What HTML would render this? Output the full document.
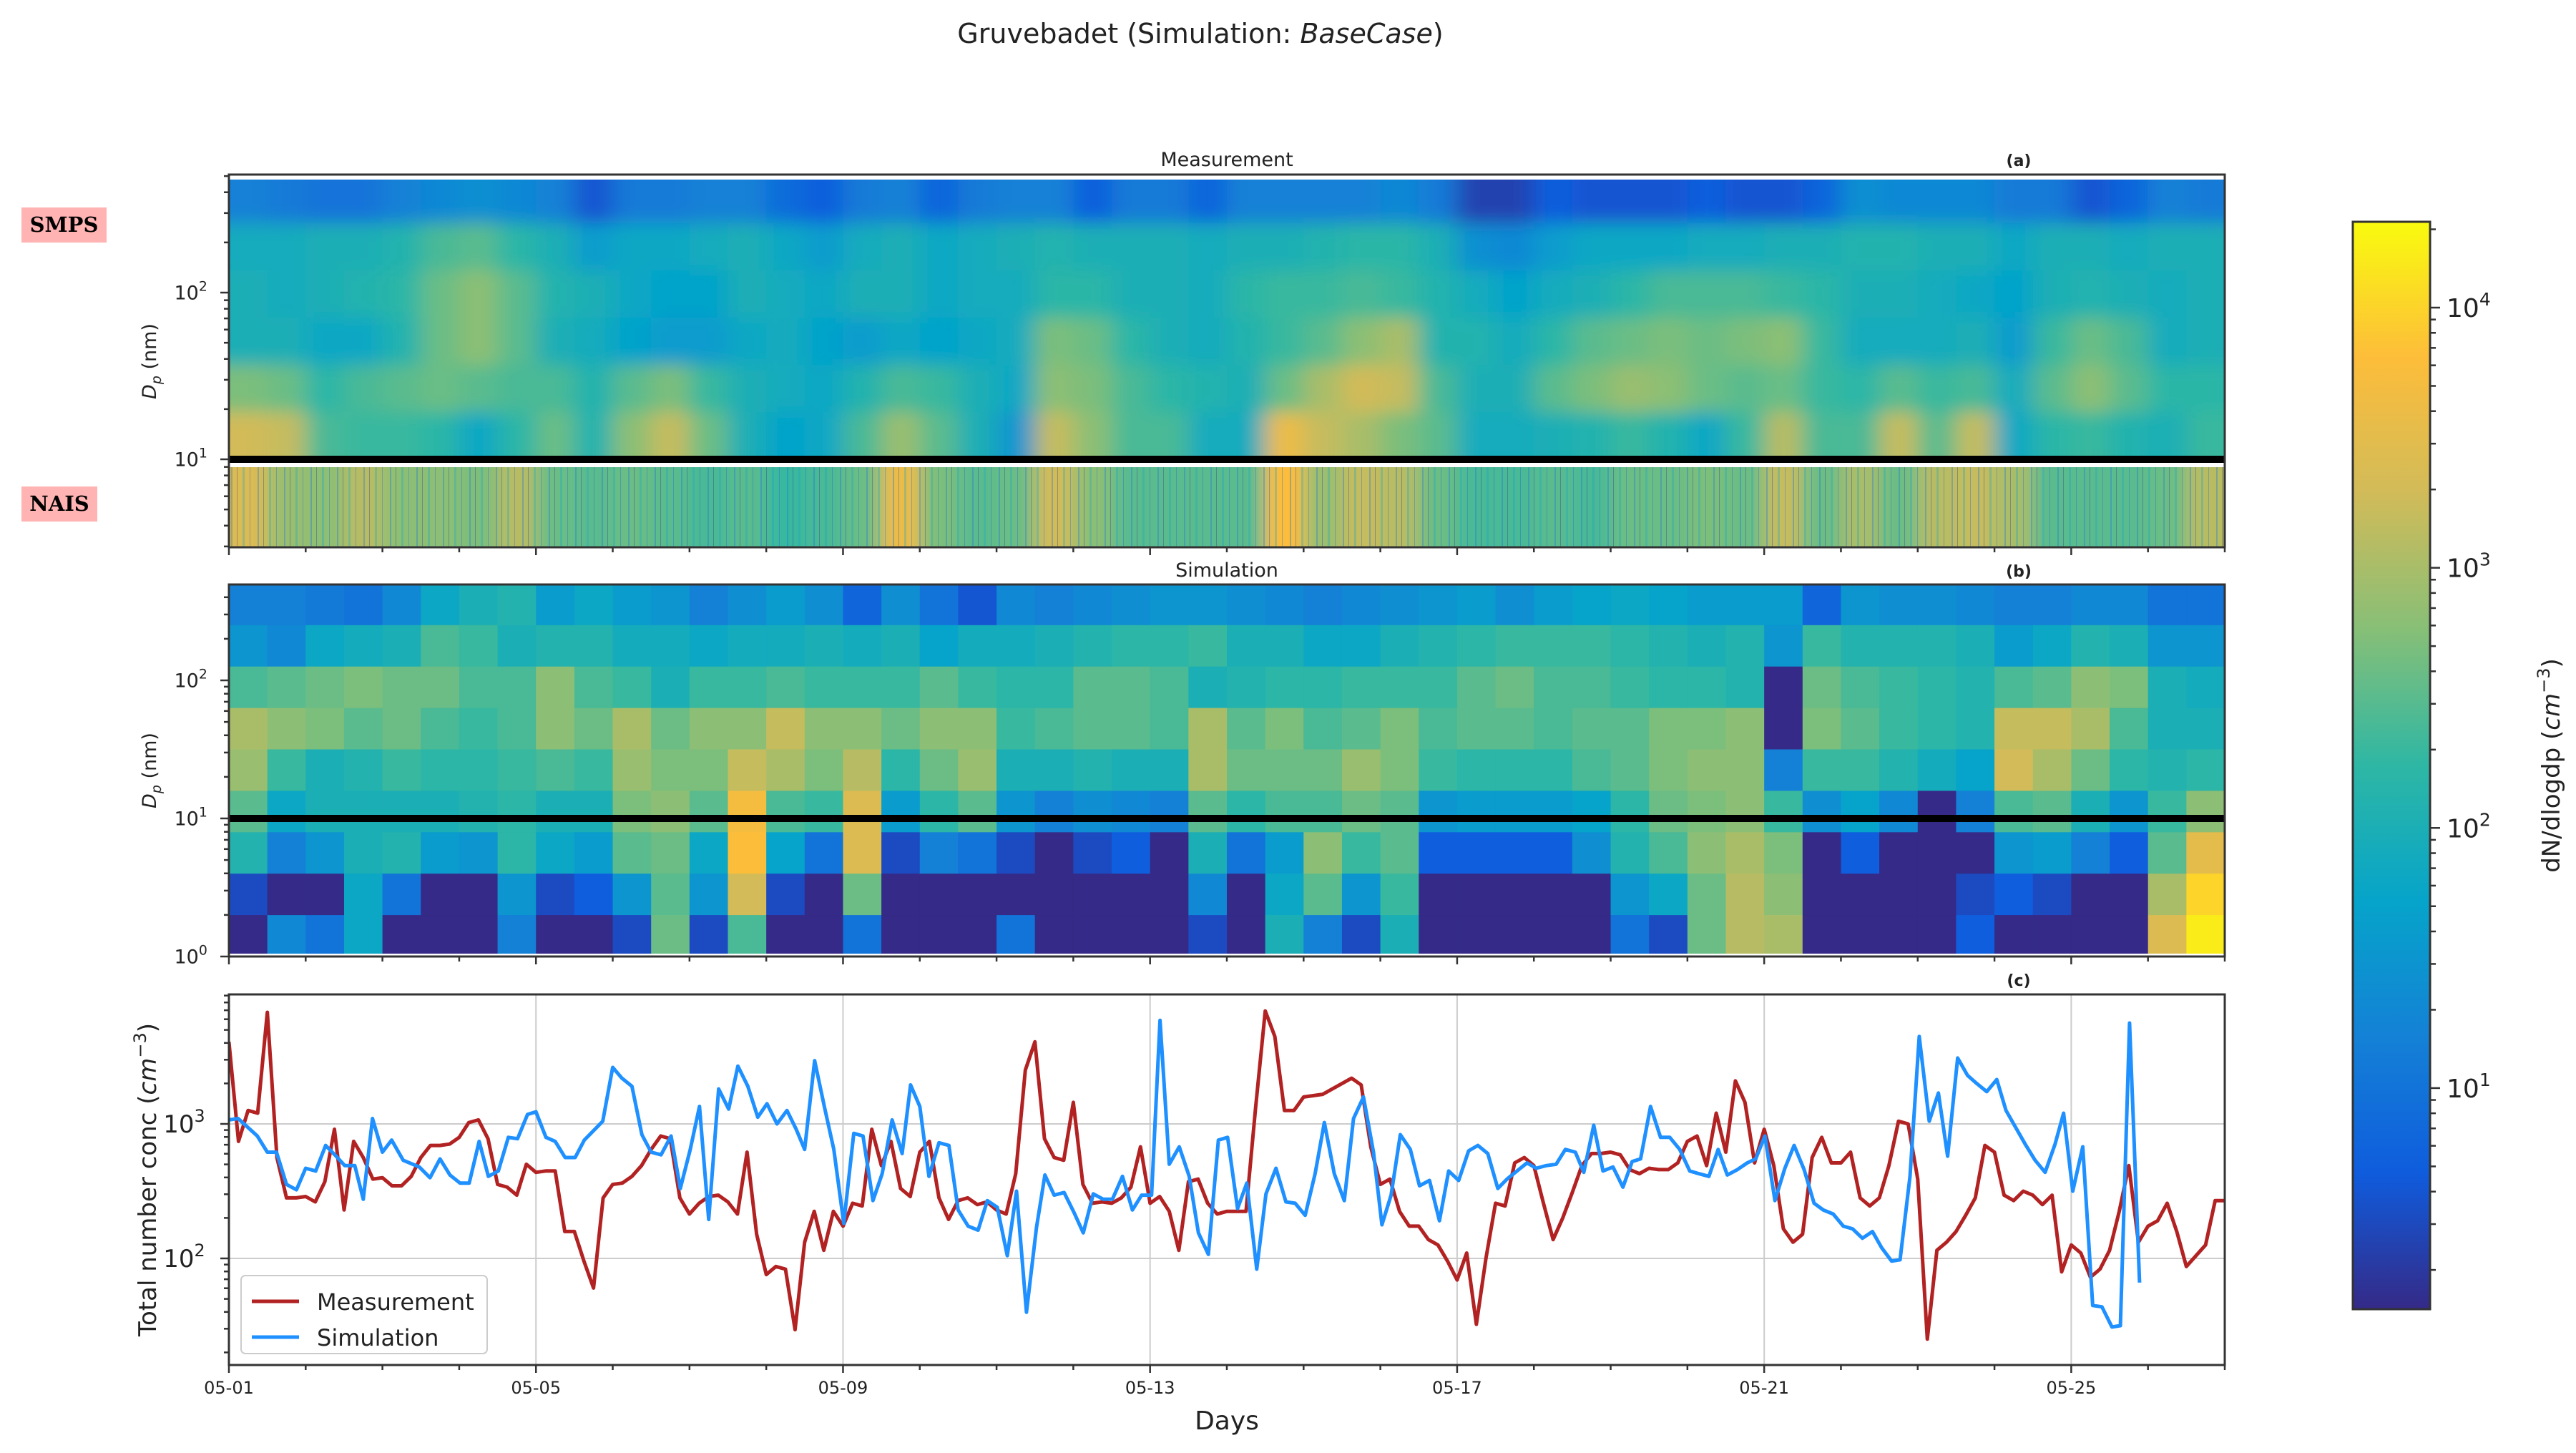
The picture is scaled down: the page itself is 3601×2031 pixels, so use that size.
<!DOCTYPE html>
<html><head><meta charset="utf-8"><title>Gruvebadet</title>
<style>
html,body{margin:0;padding:0;background:#fff;}
svg{display:block;font-family:"DejaVu Sans","Liberation Sans",sans-serif;}
</style></head>
<body>
<svg id="chart" xmlns="http://www.w3.org/2000/svg" width="3601" height="2031" viewBox="0 0 3601 2031">
<defs>
  <clipPath id="clipSmps"><rect x="320" y="251" width="2790" height="391"/></clipPath>
  <clipPath id="clipNais"><rect x="320" y="653" width="2790" height="112"/></clipPath>
  <clipPath id="clipSim"><rect x="320" y="817" width="2790" height="516"/></clipPath>
  <clipPath id="clipC"><rect x="320" y="1390" width="2790" height="518"/></clipPath>
  <filter id="blurA" x="-5%" y="-5%" width="110%" height="110%"><feGaussianBlur stdDeviation="16 12"/></filter>
  <filter id="blurN" x="-5%" y="-5%" width="110%" height="110%"><feGaussianBlur stdDeviation="12 0"/></filter>
  <pattern id="naisTex" patternUnits="userSpaceOnUse" width="37" height="112" x="320" y="653">
    <rect x="3" y="0" width="2" height="112" fill="#1f6fd8" opacity="0.35"/>
    <rect x="11" y="0" width="1" height="112" fill="#2b2f8a" opacity="0.35"/>
    <rect x="19" y="0" width="3" height="112" fill="#13a3c8" opacity="0.3"/>
    <rect x="29" y="0" width="1" height="112" fill="#1d5fd6" opacity="0.35"/>
  </pattern>
  <linearGradient id="cbGrad" x1="0" y1="1" x2="0" y2="0">
    <stop offset="0" stop-color="#352a87"/><stop offset="0.125" stop-color="#0f5cdd"/>
    <stop offset="0.25" stop-color="#1481d6"/><stop offset="0.375" stop-color="#06a4ca"/>
    <stop offset="0.5" stop-color="#2eb7a4"/><stop offset="0.625" stop-color="#87bf77"/>
    <stop offset="0.75" stop-color="#d1bb59"/><stop offset="0.875" stop-color="#fdbd3a"/>
    <stop offset="1" stop-color="#f9fb0e"/>
  </linearGradient>
</defs>

<text x="1678" y="60" font-size="38" text-anchor="middle" fill="#222">Gruvebadet (Simulation: <tspan font-style="italic">BaseCase</tspan>)</text>

<text x="1715" y="232" font-size="27" text-anchor="middle" fill="#222">Measurement</text>
<text x="2822" y="232" font-size="22" font-weight="bold" text-anchor="middle" fill="#222">(a)</text>
<text x="1715" y="806" font-size="27" text-anchor="middle" fill="#222">Simulation</text>
<text x="2822" y="806" font-size="22" font-weight="bold" text-anchor="middle" fill="#222">(b)</text>
<text x="2822" y="1378" font-size="22" font-weight="bold" text-anchor="middle" fill="#222">(c)</text>

<g>
  <rect x="30" y="290" width="119" height="49" fill="#ffb3b3"/>
  <text x="89.5" y="324" font-size="29" font-weight="bold" text-anchor="middle" font-family="DejaVu Serif, Liberation Serif, serif" fill="#000">SMPS</text>
</g>
<g>
  <rect x="30" y="680" width="106" height="49" fill="#ffb3b3"/>
  <text x="83" y="714" font-size="29" font-weight="bold" text-anchor="middle" font-family="DejaVu Serif, Liberation Serif, serif" fill="#000">NAIS</text>
</g>

<g id="heatA"></g>
<g id="heatB"></g>
<g id="gridC"></g>
<g id="linesC"></g>
<g id="axes"></g>

<text transform="translate(218,505) rotate(-90)" font-size="27" text-anchor="middle" fill="#222"><tspan font-style="italic">D</tspan><tspan font-style="italic" font-size="19" dy="7">p</tspan><tspan dy="-7"> (nm)</tspan></text>
<text transform="translate(218,1077) rotate(-90)" font-size="27" text-anchor="middle" fill="#222"><tspan font-style="italic">D</tspan><tspan font-style="italic" font-size="19" dy="7">p</tspan><tspan dy="-7"> (nm)</tspan></text>
<text transform="translate(218,1649) rotate(-90)" font-size="34" text-anchor="middle" fill="#222">Total number conc (<tspan font-style="italic">cm</tspan><tspan font-size="24" dy="-14">−3</tspan><tspan dy="14">)</tspan></text>
<text x="1715" y="1998" font-size="36" text-anchor="middle" fill="#222">Days</text>

<g>
  <rect x="337" y="1783" width="344" height="109" rx="6" fill="#fff" fill-opacity="0.8" stroke="#cccccc" stroke-width="2"/>
  <line x1="352" y1="1819" x2="418" y2="1819" stroke="#b22222" stroke-width="5"/>
  <text x="443" y="1831" font-size="32" fill="#222">Measurement</text>
  <line x1="352" y1="1869" x2="418" y2="1869" stroke="#1e90ff" stroke-width="5"/>
  <text x="443" y="1881" font-size="32" fill="#222">Simulation</text>
</g>

<g>
  <rect x="3289" y="310" width="108" height="1520" fill="url(#cbGrad)" stroke="#333" stroke-width="3"/>
</g>
<g id="cbTicks"></g>
<text transform="translate(3578,1070) rotate(-90)" font-size="34" text-anchor="middle" fill="#222">dN/dlogdp (<tspan font-style="italic">cm</tspan><tspan font-size="24" dy="-14">−3</tspan><tspan dy="14">)</tspan></text>
</svg>

<script>
// ---------------- DATA ----------------
const measStartDay = 0;
const measStepDays = 0.125;
const measLog10Conc = [
3.61,2.87,3.10,3.08,3.83,2.75,2.45,2.45,2.46,2.42,
2.57,2.96,2.36,2.87,2.75,2.59,2.60,2.54,2.54,2.61,
2.75,2.84,2.84,2.85,2.90,3.01,3.03,2.89,2.55,2.53,
2.47,2.70,2.64,2.65,2.65,2.20,2.20,1.98,1.78,2.45,
2.55,2.56,2.61,2.69,2.81,2.91,2.89,2.45,2.33,2.41,
2.46,2.47,2.42,2.33,2.79,2.18,1.88,1.94,1.92,1.47,
2.12,2.35,2.06,2.35,2.24,2.41,2.39,2.96,2.69,2.87,
2.52,2.46,2.79,2.87,2.45,2.29,2.43,2.45,2.40,2.42,
2.36,2.33,2.63,3.40,3.61,2.89,2.75,2.73,3.16,2.55,
2.41,2.42,2.41,2.45,2.53,2.83,2.41,2.46,2.35,2.06,
2.57,2.59,2.41,2.33,2.35,2.35,
2.35,3.12,3.84,3.65,3.10,3.10,3.20,3.21,3.22,3.26,
3.30,3.34,3.29,2.83,2.55,2.59,2.35,2.24,2.24,2.14,
2.10,1.98,1.84,2.04,1.51,2.00,2.41,2.39,2.71,2.75,
2.69,2.41,2.14,2.30,2.49,2.69,2.78,2.78,2.79,2.77,
2.66,2.63,2.67,2.66,2.66,2.71,2.87,2.91,2.69,3.08,
2.79,3.32,3.16,2.71,2.96,2.69,2.22,2.12,2.18,2.75,
2.90,2.71,2.71,2.79,2.45,2.39,2.45,2.69,3.02,3.00,
2.59,1.40,2.06,2.12,2.20,2.32,2.45,2.84,2.79,2.47,
2.43,2.50,2.47,2.40,2.47,1.90,2.10,2.04,1.86,1.92,
2.06,2.35,2.69,2.12,2.24,2.28,2.41,2.20,1.94,2.02,
2.10,2.43,2.43];

const simDays = [
0.00,0.12,0.37,0.50,0.62,0.75,0.88,1.00,1.13,1.26,
1.38,1.51,1.64,1.75,1.87,2.00,2.12,2.27,2.48,2.62,
2.75,2.88,3.01,3.13,3.26,3.38,3.51,3.64,3.76,3.89,
4.00,4.13,4.25,4.38,4.51,4.63,4.87,5.00,5.12,5.25,
5.38,5.50,5.63,5.76,5.88,6.01,6.13,6.25,6.38,6.51,
6.63,6.76,6.89,7.01,7.14,7.27,7.39,7.50,7.63,7.76,
7.88,8.01,8.14,8.26,8.39,8.51,8.64,8.77,8.88,9.00,
9.12,9.25,9.38,9.50,9.63,9.76,9.88,10.01,10.14,10.26,
10.39,10.52,10.63,10.75,10.88,11.01,11.13,11.26,11.39,11.51,
11.64,11.77,11.89,12.02,12.13,12.25,12.38,12.51,12.63,12.76,
12.89,13.01,13.14,
13.26,13.39,13.51,13.64,13.77,13.89,14.02,14.15,14.27,14.40,14.53,14.65,14.78,14.91,15.02,15.14,
15.26,15.39,15.51,15.64,15.77,15.89,16.02,16.15,16.27,16.40,16.53,16.65,16.78,16.91,17.03,17.16,
17.29,17.41,17.54,17.65,17.78,17.90,18.03,18.16,18.28,18.39,18.52,18.65,18.77,18.90,19.03,19.15,
19.28,19.40,19.52,19.65,19.78,19.89,20.01,20.14,20.27,20.39,20.52,20.65,20.77,20.90,21.03,21.15,
21.28,21.41,21.53,21.66,21.77,21.90,22.02,22.15,22.27,22.39,22.52,22.65,22.77,22.90,23.03,23.15,
23.28,23.41,23.53,23.66,23.79,23.90,24.02,24.15,24.28,24.40,24.53,24.64,24.76,24.89];
const simLog10Conc = [
3.03,3.04,2.91,2.79,2.79,2.55,2.51,2.67,2.65,2.84,
2.77,2.69,2.69,2.44,3.04,2.79,2.88,2.73,2.68,2.60,
2.74,2.62,2.56,2.56,2.87,2.61,2.65,2.90,2.89,3.07,
3.09,2.90,2.87,2.75,2.75,2.88,3.02,3.42,3.34,3.28,
2.92,2.79,2.77,2.91,2.52,2.81,3.13,2.29,3.26,3.11,
3.43,3.28,3.05,3.15,3.00,3.10,2.96,2.81,3.47,3.12,
2.81,2.26,2.93,2.91,2.43,2.63,3.03,2.78,3.29,3.13,
2.61,2.86,2.84,2.36,2.24,2.21,2.43,2.38,2.02,2.50,
1.60,2.23,2.62,2.47,2.49,2.34,2.19,2.48,2.44,2.44,
2.61,2.36,2.47,2.47,3.77,2.70,2.83,2.61,2.19,2.03,
2.88,2.90,2.37,
2.56,1.92,2.48,2.67,2.42,2.41,2.32,2.63,3.01,2.63,2.43,3.04,3.20,2.79,2.25,2.47,
2.92,2.81,2.54,2.58,2.28,2.65,2.58,2.80,2.84,2.78,2.52,2.59,2.65,2.71,2.67,2.69,
2.70,2.81,2.79,2.64,2.99,2.65,2.68,2.53,2.72,2.74,3.13,2.90,2.90,2.81,2.65,2.63,
2.61,2.81,2.62,2.66,2.71,2.74,2.91,2.43,2.67,2.84,2.66,2.41,2.36,2.33,2.24,2.22,
2.15,2.20,2.08,1.98,1.99,2.61,3.65,3.02,3.23,2.76,3.49,3.36,3.30,3.24,3.33,3.10,
2.97,2.84,2.73,2.64,2.85,3.08,2.50,2.83,1.65,1.64,1.49,1.50,3.75,1.82];

const heatColStartDay = 0;
const heatColStepDays = 0.5;
const smpsBinLowLog = [1.0,1.283,1.567,1.85,2.133,2.417];
const smpsBinWidthLog = 0.2833;
const smpsValues = [
[1.2,1.9,2.0,2.0,2.7,3.3],[1.1,1.9,1.9,2.0,2.6,3.2],[1.0,2.0,2.0,1.8,2.2,2.4],[1.0,2.0,2.1,1.8,2.4,2.3],
[1.2,2.1,2.2,2.1,2.5,2.3],[1.3,2.4,2.6,2.6,2.6,2.2],[1.4,2.5,2.8,2.8,2.5,1.8],[1.3,2.2,2.5,2.5,2.4,2.2],
[1.2,2.0,2.1,2.0,2.4,2.6],[0.6,1.6,2.0,1.9,2.1,2.1],[1.1,1.8,1.8,1.7,2.5,2.8],[1.1,1.8,1.7,1.6,2.7,3.2],
[1.2,1.9,1.7,1.6,2.3,2.6],[1.2,2.0,2.0,1.8,2.0,2.0],[0.9,1.8,1.9,1.9,1.9,1.7],[0.7,1.6,1.8,1.7,1.8,1.8],
[1.1,1.9,2.0,1.6,2.1,2.4],[1.2,2.0,2.0,1.8,2.4,2.9],[0.8,1.8,1.8,1.7,2.3,2.5],[1.1,1.9,1.9,1.8,2.0,2.0],
[1.2,2.0,1.9,1.9,1.8,1.5],[1.2,2.1,2.2,2.7,2.8,3.2],[0.7,2.0,2.2,2.6,2.7,2.8],[1.1,2.0,2.0,2.2,2.4,2.4],
[1.1,2.0,2.0,2.0,2.2,2.4],[0.8,1.9,1.9,1.9,2.1,1.9],[1.2,2.0,2.2,2.1,2.0,1.9],[1.2,2.0,2.3,2.3,2.6,3.6],
[1.2,2.1,2.3,2.5,3.0,3.2],[1.2,2.2,2.4,2.8,3.3,3.0],[1.3,2.2,2.3,3.0,3.2,2.7],[1.1,2.0,2.1,2.1,2.4,2.5],
[0.4,1.4,1.9,2.1,2.0,1.9],[0.4,1.3,1.7,1.9,2.0,1.9],[0.7,1.6,1.9,2.2,2.5,2.0],[0.6,1.8,2.0,2.5,2.7,2.1],
[0.6,1.8,2.2,2.6,2.9,2.3],[0.6,1.8,2.4,2.7,2.8,2.1],[0.7,1.9,2.4,2.6,2.6,1.8],[0.6,1.9,2.4,2.7,2.5,2.3],
[0.6,2.0,2.3,2.8,2.6,3.1],[0.8,2.0,2.2,2.3,2.3,2.4],[1.4,2.1,2.0,1.9,2.2,2.4],[1.3,2.1,2.0,1.9,2.5,3.2],
[1.3,2.0,1.9,1.9,2.3,2.5],[1.3,2.0,1.8,2.0,2.4,3.2],[1.1,1.8,1.7,1.6,1.9,1.8],[1.1,2.0,2.0,2.3,2.5,2.2],
[0.6,2.0,2.1,2.6,2.8,2.3],[0.8,1.9,2.0,2.4,2.5,2.1],[1.2,2.0,1.9,1.9,2.2,2.0],[1.1,2.0,2.0,2.0,2.2,2.3]];
const naisBinLog = [0.472, 0.95];
const naisValues = [3.4,2.9,2.8,3.1,2.8,2.8,2.7,3.1,2.6,2.5,2.6,2.5,2.4,2.5,2.3,2.4,2.6,3.6,2.7,2.5,2.6,3.3,2.8,2.5,2.5,2.5,
2.5,3.8,2.9,3.2,3.1,2.6,2.4,2.4,2.5,2.4,2.6,2.6,2.7,2.6,3.2,2.6,3.0,2.6,3.1,3.2,3.0,2.5,2.5,2.5,2.6,3.1];
const simBinLowLog = [0,0.3,0.6,0.9,1.2,1.5,1.8,2.1,2.4];
const simBinWidthLog = 0.3;
const simValues = [
[1.2,1.5,2.4,3.0,2.9,2.5,2.1,0.5,0.15],[1.2,1.3,2.5,2.8,2.3,1.8,1.2,0.15,1.3],[1.1,1.8,2.6,2.7,2.0,2.0,1.5,0.15,1.0],
[1.0,1.9,2.7,2.5,2.1,2.0,2.0,1.8,1.8],[1.3,2.0,2.6,2.6,2.3,2.0,2.1,1.0,0.15],[1.8,2.4,2.6,2.4,2.2,2.0,1.6,0.15,0.15],
[2.0,2.3,2.4,2.3,2.2,2.1,1.5,0.15,0.15],[2.1,2.0,2.4,2.4,2.3,2.2,2.2,1.5,1.2],[1.6,2.1,2.8,2.8,2.4,2.0,1.8,0.5,0.15],
[1.8,2.1,2.4,2.6,2.3,2.0,1.6,0.7,0.15],[1.6,1.9,2.3,3.0,2.9,2.7,2.5,1.5,0.5],[1.5,1.9,2.0,2.6,2.7,2.8,2.6,2.5,2.6],
[1.2,1.8,2.3,2.8,2.7,2.5,1.8,1.5,0.5],[1.4,1.9,2.3,2.8,3.2,3.7,3.8,3.3,2.4],[1.6,1.9,2.4,3.2,3.0,2.4,1.7,0.5,0.15],
[1.4,2.0,2.3,2.8,2.7,2.3,1.0,0.15,0.15],[0.8,1.9,2.3,2.8,3.1,3.4,3.4,2.6,1.0],[1.4,2.0,2.3,2.6,2.2,1.6,0.5,0.15,0.15],
[1.0,1.7,2.5,2.8,2.6,2.2,1.2,0.15,0.15],[0.6,1.9,2.3,2.8,2.9,2.5,1.0,0.15,0.15],[1.3,1.9,2.2,2.3,2.0,1.5,0.5,0.15,1.0],
[1.2,2.0,2.2,2.4,2.0,1.2,0.15,0.15,0.15],[1.3,2.1,2.5,2.5,2.1,1.4,0.5,0.15,0.15],[1.4,2.2,2.5,2.5,2.0,1.3,0.7,0.15,0.15],
[1.5,2.2,2.4,2.4,2.0,1.2,0.15,0.15,0.15],[1.5,2.3,2.0,3.0,3.0,2.5,2.0,1.3,0.5],[1.4,2.0,2.1,2.5,2.6,2.2,1.0,0.15,0.15],
[1.3,2.0,2.2,2.7,2.6,2.4,1.6,1.8,2.0],[1.2,1.8,2.2,2.4,2.6,2.4,2.8,2.5,1.2],[1.3,1.8,2.3,2.5,2.9,2.6,2.3,1.5,0.5],
[1.4,2.0,2.3,2.7,2.7,2.5,2.5,2.3,2.0],[1.5,2.1,2.3,2.4,2.3,1.5,0.7,0.15,0.15],[1.6,2.2,2.5,2.5,2.2,1.6,0.7,0.15,0.15],
[1.4,2.3,2.6,2.5,2.2,1.6,0.7,0.15,0.15],[1.6,2.3,2.4,2.4,2.2,1.6,0.7,0.15,0.15],[1.7,2.3,2.4,2.5,2.4,1.7,1.4,0.15,0.15],
[1.8,2.2,2.3,2.5,2.5,2.2,2.1,1.5,1.0],[1.7,2.1,2.2,2.7,2.7,2.6,2.4,1.8,0.5],[1.6,2.0,2.2,2.7,2.8,2.7,2.8,2.6,2.6],
[1.6,2.1,2.1,2.8,2.8,2.8,3.0,3.1,3.1],[1.6,1.5,0.15,0.15,1.2,2.3,2.7,2.8,3.0],[0.8,2.3,2.6,2.7,2.3,1.4,0.15,0.15,0.15],
[1.5,2.1,2.4,2.5,2.3,1.7,0.7,0.15,0.15],[1.4,2.1,2.3,2.3,2.1,1.3,0.15,0.15,0.15],[1.4,2.1,2.2,2.2,1.9,0.15,0.15,0.15,0.15],
[1.3,2.0,2.1,2.1,1.7,1.2,0.15,0.5,0.7],[1.2,1.6,2.4,3.2,3.3,2.4,1.5,0.7,0.15],[1.2,1.8,2.5,3.2,3.0,2.5,1.6,0.5,0.15],
[1.3,2.1,2.8,3.0,2.6,2.0,1.2,0.15,0.15],[1.3,2.0,2.7,2.4,2.2,1.5,0.7,0.15,0.15],[1.0,1.5,2.0,2.0,2.1,2.3,2.5,3.0,3.4],
[1.0,1.5,1.9,2.0,2.2,2.8,3.5,4.0,4.2]];

const xTickDays = [0,4,8,12,16,20,24];
const xTickLabels = ["05-01","05-05","05-09","05-13","05-17","05-21","05-25"];
const cbTickExps = [1,2,3,4];

// ---------------- SCALES ----------------
const X0 = 320, X1 = 3110, NDAYS = 26;
const xS = d => X0 + d * (X1 - X0) / NDAYS;
const yA = l => 642 - (l - 1) * 233;
const yB = l => 1337 - l * 193;
const yC = l => 1571 - (l - 3) * 188;
const CB_MIN = 0.15, CB_MAX = 4.33;
const yCB = l => 1830 - (l - CB_MIN) / (CB_MAX - CB_MIN) * 1520;

const parula = [[0,[53,42,135]],[0.125,[15,92,221]],[0.25,[20,129,214]],[0.375,[6,164,202]],
  [0.5,[46,183,164]],[0.625,[135,191,119]],[0.75,[209,187,89]],[0.875,[253,189,58]],[1,[249,251,14]]];
function cmap(v){
  let t = Math.max(0, Math.min(1, (v - CB_MIN) / (CB_MAX - CB_MIN)));
  for (let i = 1; i < parula.length; i++){
    if (t <= parula[i][0]){
      const a = parula[i-1], b = parula[i], f = (t - a[0]) / (b[0] - a[0]);
      const c = a[1].map((x, k) => Math.round(x + (b[1][k] - x) * f));
      return `rgb(${c[0]},${c[1]},${c[2]})`;
    }
  }
  return "rgb(249,251,14)";
}

const NS = "http://www.w3.org/2000/svg";
function mk(tag, attrs, parent){
  const e = document.createElementNS(NS, tag);
  for (const k in attrs) e.setAttribute(k, attrs[k]);
  parent.appendChild(e);
  return e;
}

// ---------------- HEATMAP A ----------------
const heatA = document.getElementById("heatA");
const smpsClip = mk("g", {"clip-path": "url(#clipSmps)"}, heatA);
const smpsG = mk("g", {filter: "url(#blurA)"}, smpsClip);
smpsValues.forEach((col, ci) => {
  const d0 = heatColStartDay + ci * heatColStepDays;
  let xa = xS(d0), xb = xS(d0 + heatColStepDays);
  if (ci === 0) xa -= 60;
  if (ci === smpsValues.length - 1) xb += 60;
  const nb = smpsBinLowLog.length;
  col.forEach((v, ri) => {
    const bi = nb - 1 - ri;
    const lo = smpsBinLowLog[bi], hi = lo + smpsBinWidthLog;
    let ya = yA(hi), yb = yA(lo);
    if (bi === nb - 1) ya -= 50;
    if (bi === 0) yb += 50;
    const r = mk("rect", {x: xa, y: ya, width: xb - xa + 0.5, height: yb - ya + 0.5, fill: cmap(v)}, smpsG);
    
    
  });
});
const naisClip = mk("g", {"clip-path": "url(#clipNais)"}, heatA);
const naisG = mk("g", {filter: "url(#blurN)"}, naisClip);
naisValues.forEach((v, ci) => {
  const d0 = heatColStartDay + ci * heatColStepDays;
  let xa = xS(d0), xb = xS(d0 + heatColStepDays);
  if (ci === 0) xa -= 60;
  if (ci === naisValues.length - 1) xb += 60;
  const r = mk("rect", {x: xa, y: yA(naisBinLog[1]) - 10, width: xb - xa + 0.5, height: yA(naisBinLog[0]) - yA(naisBinLog[1]) + 20, fill: cmap(v)}, naisG);
  
  
});
const tex = mk("rect", {x: 320, y: 653, width: 2790, height: 112, fill: "url(#naisTex)"}, naisClip);


const blA = mk("rect", {x: 320, y: 637, width: 2790, height: 10, fill: "#000"}, heatA);



// ---------------- HEATMAP B ----------------
const heatB = document.getElementById("heatB");
const simClip = mk("g", {"clip-path": "url(#clipSim)"}, heatB);
simValues.forEach((col, ci) => {
  const d0 = heatColStartDay + ci * heatColStepDays;
  const xa = xS(d0), xb = xS(d0 + heatColStepDays);
  const nb = simBinLowLog.length;
  col.forEach((v, ri) => {
    const bi = nb - 1 - ri;
    const lo = simBinLowLog[bi], hi = lo + simBinWidthLog;
    const r = mk("rect", {x: xa, y: yB(hi), width: xb - xa + 0.6, height: yB(lo) - yB(hi) + 0.6, fill: cmap(v)}, simClip);
    
    
  });
});
const blB = mk("rect", {x: 320, y: 1139, width: 2790, height: 10, fill: "#000"}, heatB);



// ---------------- PANEL C ----------------
const gridC = document.getElementById("gridC");
[2,3].forEach(e => {
  const g = mk("line", {x1: X0, x2: X1, y1: yC(e), y2: yC(e), stroke: "#cccccc", "stroke-width": 2}, gridC);
  
  
});
xTickDays.forEach(d => {
  if (d === 0) return;
  const g = mk("line", {x1: xS(d), x2: xS(d), y1: 1390, y2: 1908, stroke: "#cccccc", "stroke-width": 2}, gridC);
  
  
});
const linesC = document.getElementById("linesC");
const clipG = mk("g", {"clip-path": "url(#clipC)"}, linesC);
const measPts = measLog10Conc.map((v, i) => `${xS(measStartDay + i * measStepDays).toFixed(1)},${yC(v).toFixed(1)}`).join(" ");
const measLine = mk("polyline", {points: measPts, fill: "none", stroke: "#b22222", "stroke-width": 5, "stroke-linejoin": "round"}, clipG);


const simPts = simLog10Conc.map((v, i) => `${xS(simDays[i]).toFixed(1)},${yC(v).toFixed(1)}`).join(" ");
const simLine = mk("polyline", {points: simPts, fill: "none", stroke: "#1e90ff", "stroke-width": 5, "stroke-linejoin": "round"}, clipG);



// ---------------- AXES ----------------
const axes = document.getElementById("axes");
function frame(y0, y1, name){
  const r = mk("rect", {x: X0, y: y0, width: X1 - X0, height: y1 - y0, fill: "none", stroke: "#333", "stroke-width": 3}, axes);
  
  
}
frame(244, 765, "panel-a-frame");
frame(817, 1337, "panel-b-frame");
frame(1390, 1908, "panel-c-frame");

function xTicks(yBottom, withLabels){
  for (let d = 0; d <= NDAYS; d++){
    const major = xTickDays.includes(d);
    const t = mk("line", {x1: xS(d), x2: xS(d), y1: yBottom, y2: yBottom + (major ? 11 : 7), stroke: "#333", "stroke-width": 2.5}, axes);
    
    
  }
  if (withLabels){
    xTickDays.forEach((d, i) => {
      const tx = mk("text", {x: xS(d), y: yBottom + 40, "font-size": 24, "text-anchor": "middle", fill: "#222"}, axes);
      tx.textContent = xTickLabels[i];
      
      
    });
  }
}
xTicks(765, false); xTicks(1337, false); xTicks(1908, true);

function yLogTicks(scale, lo, hi, yTop, yBot, majorLabels, fs, xRight){
  for (let e = Math.floor(lo); e <= Math.ceil(hi); e++){
    for (let m = 1; m <= 9; m++){
      const l = e + Math.log10(m);
      const y = scale(l);
      if (y < yTop - 0.5 || y > yBot + 0.5) continue;
      const major = m === 1;
      const t = mk("line", {x1: xRight, x2: xRight - (major ? 12 : 7), y1: y, y2: y, stroke: "#333", "stroke-width": 2.5}, axes);
      
      
      if (major && majorLabels.includes(e)){
        const tx = mk("text", {x: xRight - 18 - fs * 0.45, y: y + fs * 0.36, "font-size": fs, "text-anchor": "end", fill: "#222"}, axes);
        tx.textContent = "10";
        const sup = mk("tspan", {"font-size": fs * 0.7, dy: -fs * 0.45}, tx);
        sup.textContent = String(e);
        
        
      }
    }
  }
}
yLogTicks(yA, 0, 3, 244, 765, [1,2], 27, X0);
yLogTicks(yB, 0, 3, 817, 1337, [0,1,2], 27, X0);
yLogTicks(yC, 1, 4, 1390, 1908, [2,3], 34, X0);

const cbT = document.getElementById("cbTicks");
for (let e = 0; e <= 4; e++){
  for (let m = 1; m <= 9; m++){
    const l = e + Math.log10(m);
    if (l < CB_MIN || l > CB_MAX) continue;
    const y = yCB(l), major = m === 1;
    const t = mk("line", {x1: 3397, x2: 3397 + (major ? 14 : 8), y1: y, y2: y, stroke: "#333", "stroke-width": 2.5}, cbT);
    
    
  }
}
cbTickExps.forEach(e => {
  const y = yCB(e);
  const tx = mk("text", {x: 3420, y: y + 13, "font-size": 36, fill: "#222"}, cbT);
  tx.textContent = "10";
  const sup = mk("tspan", {"font-size": 25, dy: -16}, tx);
  sup.textContent = String(e);
  
  
});
</script>
</body></html>
